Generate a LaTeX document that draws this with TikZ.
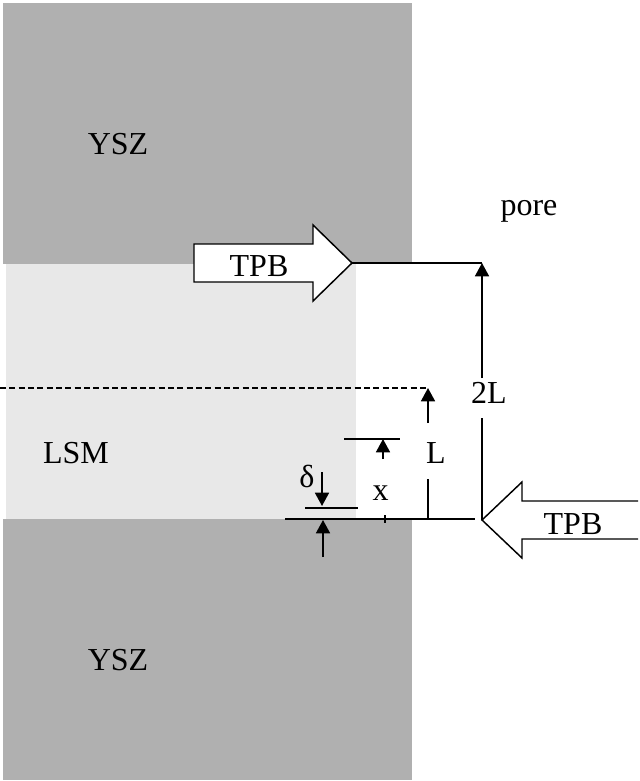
\documentclass[tikz,border=0pt]{standalone}
\usepackage{fontspec}
\setmainfont{Liberation Serif}
\usetikzlibrary{arrows.meta}
\definecolor{yszgray}{RGB}{176,176,176}
\definecolor{lsmgray}{RGB}{232,232,232}
\tikzset{
  lbl/.style={inner sep=0pt,font=\fontsize{24}{28}\selectfont,text=black},
  conn/.style={draw=black,line width=1.3pt},
  dim/.style={conn,-{Triangle[length=10pt,width=10.5pt]}},
  bigarrow/.style={draw=black,fill=white,line width=1.1pt,line join=miter}
}
\begin{document}
\begin{tikzpicture}[x=0.75pt,y=-0.75pt]
\useasboundingbox (0,0) rectangle (639,781);
% regions
\fill[yszgray] (3,3) rectangle (412,264);
\fill[yszgray] (3,519) rectangle (412,780);
\fill[lsmgray] (6,264) rectangle (356,519);
% key points
\coordinate (tpbTip) at (352,263);
\coordinate (top2L) at (482,263);
\coordinate (up2Lfrom) at (482,378);
\coordinate (dn2Lfrom) at (482,418);
\coordinate (tpbTip2) at (482,520);
\coordinate (baseL) at (285,519);
\coordinate (baseR) at (475,519);
\coordinate (dashL) at (0,388);
\coordinate (topL) at (428,388);
\coordinate (upLfrom) at (428,423);
\coordinate (dnLfrom) at (428,479);
\coordinate (footL) at (428,519);
\coordinate (tickA) at (385,515);
\coordinate (tickB) at (385,523);
\coordinate (xbarL) at (344,439);
\coordinate (xbarR) at (400,439);
\coordinate (xTip) at (383,439);
\coordinate (xFrom) at (383,459);
\coordinate (dbarL) at (305,508);
\coordinate (dbarR) at (358,508);
\coordinate (dTip) at (322,506);
\coordinate (dFrom) at (322,472);
\coordinate (d2Tip) at (323,520);
\coordinate (d2From) at (323,557);
% block arrows
\draw[bigarrow] (194,244) -- (313,244) -- (313,225) -- (tpbTip) -- (313,301) -- (313,282) -- (194,282) -- cycle;
\draw[bigarrow] (638,501) -- (522,501) -- (522,482) -- (tpbTip2) -- (522,558) -- (522,539) -- (638,539);
% connectors
\draw[conn] (tpbTip) -- (top2L);
\draw[dim] (up2Lfrom) -- (top2L);
\draw[conn] (dn2Lfrom) -- (tpbTip2);
\draw[conn] (baseL) -- (baseR);
\draw[conn,dashed,dash pattern=on 4.5pt off 2.5pt,line width=1pt] (dashL) -- (topL);
\draw[dim] (upLfrom) -- (topL);
\draw[conn] (dnLfrom) -- (footL);
\draw[conn] (tickA) -- (tickB);
\draw[conn] (xbarL) -- (xbarR);
\draw[dim] (xFrom) -- (xTip);
\draw[conn] (dbarL) -- (dbarR);
\draw[dim] (dFrom) -- (dTip);
\draw[dim] (d2From) -- (d2Tip);
% labels
\node[lbl] (ysz1) at (118,144) {YSZ};
\node[lbl] (ysz2) at (118,660) {YSZ};
\node[lbl] (lsm) at (76,453) {LSM};
\node[lbl] (pore) at (529,211) {pore};
\node[lbl] (tpb1) at (259,266) {TPB};
\node[lbl] (tpb2) at (573,524) {TPB};
\node[lbl] (two) at (489,393) {2L};
\node[lbl] (ell) at (436,453) {L};
\node[lbl] (ex) at (380.5,493) {x};
\node[lbl] (del) at (307,476) {δ};
\end{tikzpicture}
\end{document}
